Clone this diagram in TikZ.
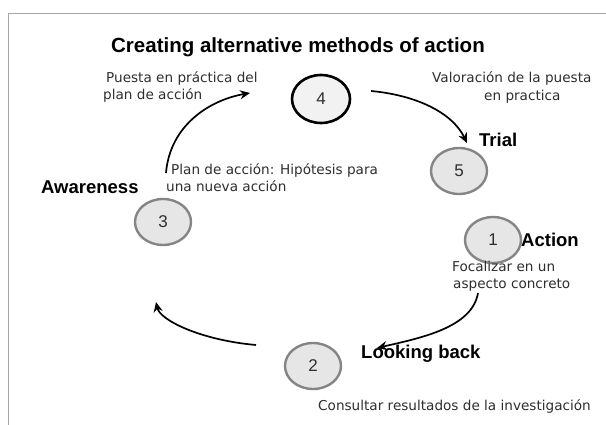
\documentclass[tikz,border=0pt]{standalone}
\usepackage{fontspec}
\setmainfont{Liberation Sans}
\newfontfamily\smallf{DejaVu Sans}
\usetikzlibrary{arrows.meta,shapes.geometric}
\definecolor{ringgray}{HTML}{858585}
\definecolor{fillgray}{HTML}{E6E6E6}
\definecolor{txtgray}{HTML}{2E2E2E}
\tikzset{
  stage/.style={ellipse,draw=ringgray,line width=2.4pt,fill=fillgray,minimum width=56pt,minimum height=46pt,inner sep=0pt,font=\fontsize{17}{17}\selectfont,text=txtgray},
  stagefour/.style={stage,draw=black,line width=2.6pt,fill=black!5,minimum width=58pt,minimum height=48pt},
  phase/.style={font=\bfseries\fontsize{18.5}{19}\selectfont,text=black,inner sep=0pt},
  note/.style={font=\smallf\fontsize{13.6}{17}\selectfont,text=txtgray,inner sep=0pt,anchor=base west},
  flow/.style={line width=1.7pt,-{Stealth[length=10pt,width=9pt]}},
  frameline/.style={gray!70,line width=0.8pt}
}
\begin{document}
\begin{tikzpicture}[x=1pt,y=-1pt]
\useasboundingbox (0,0) rectangle (606,425);
\coordinate (fTR) at (606,13);
\coordinate (fTL) at (8,13);
\coordinate (fBL) at (8,425);
\draw[frameline] (fTR) -- (fTL) -- (fBL);
% title
\node[phase,font=\bfseries\fontsize{20.5}{21}\selectfont] (title) at (298,47) {Creating alternative methods of action};
% stages
\node[stagefour] (s4) at (321,99) {4};
\node[stage] (s5) at (459,171) {5};
\node[stage] (s1) at (493,240) {1};
\node[stage] (s2) at (313,366) {2};
\node[stage] (s3) at (163,222) {3};
% phase labels
\node[phase,anchor=west] (trial) at (479,140) {Trial};
\node[phase,anchor=west] (action) at (521,240) {Action};
\node[phase,anchor=west] (looking) at (361,354) {Looking back};
\node[phase,anchor=west] (aware) at (41,187) {Awareness};
% notes
\node[note] (n4a) at (106,83) {Puesta en práctica del};
\node[note] (n4b) at (103,100) {plan de acción};
\node[note] (n5a) at (432,83) {Valoración de la puesta};
\node[note] (n5b) at (484,101) {en practica};
\node[note] (n3a) at (171,175) {Plan de acción: Hipótesis para};
\node[note] (n3b) at (166,192) {una nueva acción};
\node[note] (n1a) at (452,272) {Focalizar en un};
\node[note] (n1b) at (453,289) {aspecto concreto};
\node[note] (n2) at (318,410) {Consultar resultados de la investigación};
% connectors
\coordinate (a1) at (371,91);
\coordinate (b1) at (467,143);
\coordinate (a2) at (478,293);
\coordinate (b2) at (377,348);
\coordinate (a3) at (256,345);
\coordinate (b3) at (156,302);
\coordinate (a4) at (166,173);
\coordinate (b4) at (250,93);
\draw[flow] (a1) .. controls (415,95) and (452,112) .. (b1);
\draw[flow] (a2) .. controls (472,328) and (420,338) .. (b2);
\draw[flow] (a3) .. controls (200,340) and (160,320) .. (b3);
\draw[flow] (a4) .. controls (170,125) and (210,100) .. (b4);
\end{tikzpicture}
\end{document}
